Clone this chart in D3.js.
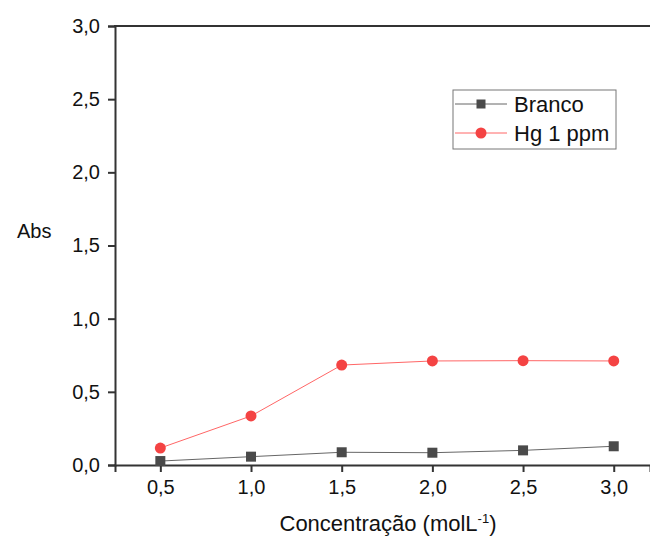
<html><head>
<script src="https://d3js.org/d3.v7.min.js"></script>
<style>
  body { margin: 0; background: #fff; }
  text { font-family: "Liberation Sans", Arial, sans-serif; fill: #111; }
</style>
</head>
<body>
<script>
// values
const conc = [0.5, 1.0, 1.5, 2.0, 2.5, 3.0];
const branco = [0.027, 0.057, 0.087, 0.084, 0.100, 0.128];
const hg = [0.116, 0.335, 0.683, 0.711, 0.713, 0.711];
const xTicks = [0.5, 1.0, 1.5, 2.0, 2.5, 3.0];
const yTicks = [0, 0.5, 1.0, 1.5, 2.0, 2.5, 3.0];

const svg = d3.select("body").append("svg")
  .attr("width", 650).attr("height", 538);

const x = d3.scaleLinear().domain([0.25, 3.2]).range([115, 650]);
const y = d3.scaleLinear().domain([0, 3]).range([465, 26]);
const fmt = d => d3.format(".1f")(d).replace(".", ",");

// axes
const xAxis = svg.append("g").attr("transform", "translate(0,465)")
  .call(d3.axisBottom(x).tickValues(xTicks).tickFormat(fmt).tickSize(7).tickPadding(8));
const yAxis = svg.append("g").attr("transform", "translate(115,0)")
  .call(d3.axisLeft(y).tickValues(yTicks).tickFormat(fmt).tickSize(7).tickPadding(8));
[xAxis, yAxis].forEach(a => {
  a.attr("font-size", null).attr("font-family", null);
  a.select(".domain").attr("stroke", "#333").attr("stroke-width", 2);
  a.selectAll(".tick line").attr("stroke", "#333").attr("stroke-width", 2);
  a.selectAll(".tick text").style("font-size", "20px").attr("fill", "#111");
});
// top frame line
svg.append("line").attr("x1", 114).attr("x2", 650).attr("y1", 26).attr("y2", 26)
  .attr("stroke", "#333").attr("stroke-width", 2);

// axis titles
svg.append("text").attr("x", 17).attr("y", 238).style("font-size", "20px").text("Abs");
const xt = svg.append("text").attr("x", 388).attr("y", 531)
  .attr("text-anchor", "middle").style("font-size", "22px");
xt.append("tspan").text("Concentração (molL");
xt.append("tspan").attr("dy", -8).style("font-size", "13px").text("-1");
xt.append("tspan").attr("dy", 8).text(")");

// series
const series = [
  {name: "Branco", values: branco, color: "#4a4a4a", line: "#666", shape: "square"},
  {name: "Hg 1 ppm", values: hg, color: "#f44343", line: "#f66", shape: "circle"}
];
const line = d3.line().x((d, i) => x(conc[i])).y(d => y(d));

series.forEach(s => {
  svg.append("path").datum(s.values)
    .attr("d", line).attr("fill", "none")
    .attr("stroke", s.line).attr("stroke-width", 1);
  if (s.shape === "square") {
    svg.selectAll(null).data(s.values).join("rect")
      .attr("x", (d, i) => x(conc[i]) - 5).attr("y", d => y(d) - 5)
      .attr("width", 10).attr("height", 10).attr("fill", s.color);
  } else {
    svg.selectAll(null).data(s.values).join("circle")
      .attr("cx", (d, i) => x(conc[i])).attr("cy", d => y(d))
      .attr("r", 5.5).attr("fill", s.color);
  }
});

// legend
const lg = svg.append("g");
lg.append("rect").attr("x", 453).attr("y", 90).attr("width", 163).attr("height", 59)
  .attr("fill", "#fff").attr("stroke", "#777").attr("stroke-width", 1);
series.forEach((s, i) => {
  const cy = 104 + i * 29;
  lg.append("line").attr("x1", 455).attr("x2", 507).attr("y1", cy).attr("y2", cy)
    .attr("stroke", s.line).attr("stroke-width", 1);
  if (s.shape === "square") {
    lg.append("rect").attr("x", 481 - 4.5).attr("y", cy - 4.5)
      .attr("width", 9).attr("height", 9).attr("fill", s.color);
  } else {
    lg.append("circle").attr("cx", 481).attr("cy", cy).attr("r", 5.5).attr("fill", s.color);
  }
  lg.append("text").attr("x", 514).attr("y", cy + 8).style("font-size", "22px").text(s.name);
});
</script>
</body></html>
